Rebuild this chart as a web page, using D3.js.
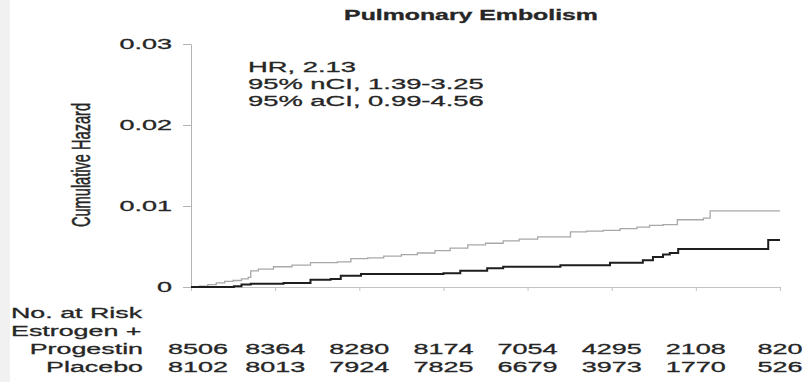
<!DOCTYPE html>
<html>
<head>
<meta charset="utf-8">
<script src="https://cdn.jsdelivr.net/npm/d3@7"></script>
<style>
  html, body { margin: 0; padding: 0; background: #fff; }
  svg { display: block; }
  text { font-family: "Liberation Sans", Arial, Helvetica, sans-serif; fill: #262626; stroke: #262626; stroke-width: 0.3; }
</style>
</head>
<body>
<svg id="chart" width="808" height="382"></svg>
<script>
// Cumulative hazard of pulmonary embolism by year of follow-up
const years = [0, 1, 2, 3, 4, 5, 6, 7];
const yTicks = [0, 0.01, 0.02, 0.03];

// Estrogen + progestin arm: [year, cumulative hazard]
const estrogenProgestin = [
  [0, 0], [0.1, 0.0001], [0.2, 0.0003], [0.3, 0.0005], [0.4, 0.0007],
  [0.5, 0.0008], [0.6, 0.0010], [0.68, 0.0012], [0.71, 0.0020], [0.8, 0.0022],
  [0.98, 0.0025], [1.2, 0.0027], [1.42, 0.0030], [1.74, 0.0031], [1.9, 0.0035],
  [2.1, 0.0036], [2.29, 0.0038], [2.5, 0.0040], [2.69, 0.0042], [2.9, 0.0045],
  [3.08, 0.0048], [3.29, 0.0052], [3.5, 0.0054], [3.71, 0.0057], [3.9, 0.0059],
  [4.12, 0.0062], [4.51, 0.0068], [4.7, 0.0069], [4.9, 0.0070], [5.1, 0.0072],
  [5.3, 0.0074], [5.45, 0.0076], [5.61, 0.0077], [5.78, 0.0083], [6.09, 0.0085],
  [6.17, 0.0094], [7.0, 0.0094]
];

// Placebo arm: [year, cumulative hazard]
const placebo = [
  [0, 0], [0.51, 0.0001], [0.6, 0.0003], [0.71, 0.0004], [1.1, 0.0005],
  [1.42, 0.0009], [1.66, 0.0010], [1.78, 0.0014], [2.02, 0.0016], [3.0, 0.0017],
  [3.2, 0.0020], [3.52, 0.0023], [3.71, 0.0025], [4.39, 0.0027], [4.98, 0.0030],
  [5.37, 0.0033], [5.49, 0.0037], [5.61, 0.0040], [5.69, 0.0042], [5.79, 0.0047],
  [6.86, 0.0058], [7.0, 0.0058]
];

// Numbers at risk at each year
const riskEP = [8506, 8364, 8280, 8174, 7054, 4295, 2108, 820];
const riskPlacebo = [8102, 8013, 7924, 7825, 6679, 3973, 1770, 526];

const title = "Pulmonary Embolism";
const yLabel = "Cumulative Hazard";
const statLines = ["HR, 2.13", "95% nCI, 1.39-3.25", "95% aCI, 0.99-4.56"];

// Text is drawn horizontally widened
const SX = 1.8;

const svg = d3.select("#chart");

// light band along the left edge
svg.append("rect").attr("x", 0).attr("y", 0).attr("width", 10).attr("height", 382)
  .attr("fill", "#f1f1f1");

const x = d3.scaleLinear().domain([0, 7]).range([191, 780]);
const y = d3.scaleLinear().domain([0, 0.03]).range([287, 44]);

function wideText(g, tx, ty, str, opts = {}) {
  return g.append("text")
    .attr("transform", `translate(${tx},${ty}) scale(${SX},1)${opts.rotate ? ` rotate(${opts.rotate})` : ""}`)
    .attr("text-anchor", opts.anchor || "start")
    .attr("font-size", opts.size || 15)
    .attr("font-weight", opts.weight || "normal")
    .text(str);
}

// Title
wideText(svg, 471, 20, title, { anchor: "middle", size: 13.8, weight: "bold" });

// Y axis
const yAxis = svg.append("g")
  .attr("transform", `translate(${x(0)},0)`)
  .call(d3.axisLeft(y).tickValues(yTicks).tickSize(8).tickSizeOuter(0).tickFormat(""));
yAxis.selectAll("path, line").attr("stroke", "#b3b3b3").attr("stroke-width", 1);
yTicks.forEach(v => {
  wideText(svg, 172, y(v) + 5, v === 0 ? "0" : d3.format(".2f")(v), { anchor: "end", size: 15 });
});

// Y axis title
wideText(svg, 90, 165, yLabel, { anchor: "middle", size: 14.6, rotate: -90 });

// X axis (years, unlabeled)
const xAxis = svg.append("g")
  .attr("transform", `translate(0,${y(0)})`)
  .call(d3.axisBottom(x).tickValues(years).tickSize(4).tickSizeOuter(0).tickFormat(""));
xAxis.selectAll("path, line").attr("stroke", "#c4c4c4").attr("stroke-width", 1);

// Cumulative hazard curves
const line = d3.line().x(d => x(d[0])).y(d => y(d[1])).curve(d3.curveStepAfter);
svg.append("path").datum(estrogenProgestin).attr("d", line)
  .attr("fill", "none").attr("stroke", "#a8a8a8").attr("stroke-width", 1.3);
svg.append("path").datum(placebo).attr("d", line)
  .attr("fill", "none").attr("stroke", "#1e1e1e").attr("stroke-width", 2);

// Hazard ratio annotation
statLines.forEach((s, i) => {
  wideText(svg, 248, 72 + i * 17, s, { size: 15.2 });
});

// Numbers at risk table
wideText(svg, 11, 318, "No. at Risk", { size: 14.9 });
wideText(svg, 11, 336, "Estrogen +", { size: 14.9 });
wideText(svg, 143, 354, "Progestin", { anchor: "end", size: 14.9 });
wideText(svg, 143, 372, "Placebo", { anchor: "end", size: 14.9 });
riskEP.forEach((n, i) => {
  wideText(svg, x(years[i]) + (i === 0 ? 7 : 0), 354, String(n), { anchor: "middle", size: 15 });
});
riskPlacebo.forEach((n, i) => {
  wideText(svg, x(years[i]) + (i === 0 ? 7 : 0), 372, String(n), { anchor: "middle", size: 15 });
});
</script>
</body>
</html>
